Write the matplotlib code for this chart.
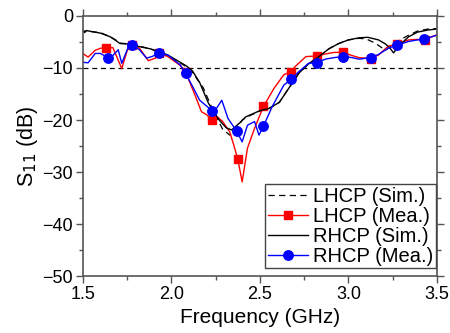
import numpy as np
import matplotlib.pyplot as plt
from matplotlib.ticker import MultipleLocator

plt.rcParams['font.family'] = ['Liberation Sans', 'DejaVu Sans']

# RHCP simulated (solid)
f_rs = [1.50, 1.51, 1.52, 1.60, 1.655, 1.69, 1.71, 1.765, 1.82, 1.88, 1.93, 1.98, 2.01, 2.05,
        2.085, 2.12, 2.16, 2.21, 2.27, 2.31, 2.34, 2.385, 2.42, 2.46, 2.50, 2.55, 2.61, 2.665,
        2.72, 2.775, 2.83, 2.89, 2.945, 3.00, 3.06, 3.11, 3.17, 3.21, 3.235, 3.255, 3.28, 3.34,
        3.39, 3.45, 3.50]
s_rs = [-2.7, -3.0, -2.8, -3.3, -4.0, -4.8, -5.3, -5.4, -5.9, -6.3, -6.9, -7.5, -8.1, -8.9,
        -9.6, -10.6, -12.8, -16.8, -20.0, -21.5, -21.9, -20.6, -19.4, -18.8, -18.2, -17.8, -16.6, -13.8,
        -11.0, -9.2, -7.9, -6.3, -5.3, -4.6, -4.2, -4.1, -4.6, -5.4, -6.2, -7.1, -5.9, -4.0,
        -3.1, -2.7, -2.5]

# LHCP simulated (dashed)
f_ls = [1.50, 1.51, 1.52, 1.60, 1.655, 1.69, 1.71, 1.765, 1.82, 1.88, 1.93, 1.98, 2.01, 2.05,
        2.085, 2.12, 2.18, 2.235, 2.29, 2.33, 2.36, 2.40, 2.44, 2.50, 2.55, 2.61, 2.665,
        2.72, 2.775, 2.83, 2.89, 2.945, 3.00, 3.06, 3.10, 3.15, 3.21, 3.24, 3.28, 3.34,
        3.39, 3.45, 3.50]
s_ls = [-2.6, -3.2, -2.9, -3.2, -4.0, -4.7, -5.2, -5.4, -5.8, -6.3, -6.9, -7.5, -8.2, -9.0,
        -9.8, -10.9, -13.8, -18.1, -21.8, -22.9, -22.0, -20.0, -19.2, -18.3, -17.8, -16.6, -13.8,
        -11.0, -9.2, -7.9, -6.3, -5.3, -4.6, -4.3, -4.4, -5.2, -6.6, -5.8, -4.8, -3.7,
        -2.9, -2.5, -2.4]

# LHCP measured
f_lm = [1.50, 1.53, 1.57, 1.60, 1.63, 1.67, 1.72, 1.76, 1.78, 1.82, 1.87, 1.91, 1.93, 1.98,
        2.05, 2.08, 2.13, 2.17, 2.20, 2.23, 2.26, 2.29, 2.33, 2.355, 2.375, 2.40, 2.43, 2.47,
        2.52, 2.58, 2.635, 2.675, 2.70, 2.76, 2.82, 2.87, 2.92, 2.97, 3.02, 3.06, 3.125, 3.17,
        3.225, 3.275, 3.34, 3.39, 3.43, 3.47, 3.50]
s_lm = [-7.2, -7.9, -6.6, -6.2, -6.1, -6.1, -10.1, -5.6, -5.6, -6.2, -8.6, -8.1, -7.2, -7.8,
        -9.5, -10.7, -14.9, -18.4, -19.0, -20.0, -19.4, -20.3, -22.3, -25.1, -27.5, -31.9, -25.4, -21.6,
        -17.4, -13.9, -11.3, -10.7, -9.7, -7.8, -7.7, -7.3, -7.0, -7.0, -7.6, -8.0, -8.2, -7.5,
        -5.8, -5.4, -4.6, -4.5, -4.7, -4.0, -3.6]
mk_lm = [1.63, 1.78, 1.93, 2.08, 2.23, 2.375, 2.52, 2.675, 2.82, 2.97, 3.125, 3.275, 3.43]

# RHCP measured
f_rm = [1.50, 1.53, 1.57, 1.60, 1.64, 1.67, 1.70, 1.72, 1.76, 1.78, 1.82, 1.86, 1.89, 1.93,
        1.98, 2.05, 2.08, 2.13, 2.16, 2.23, 2.25, 2.285, 2.32, 2.37, 2.40, 2.43, 2.47, 2.495,
        2.52, 2.57, 2.635, 2.675, 2.72, 2.775, 2.82, 2.87, 2.92, 2.97, 3.02, 3.06, 3.125, 3.17,
        3.225, 3.275, 3.34, 3.39, 3.425, 3.47, 3.50]
s_rm = [-8.9, -9.0, -7.2, -7.2, -8.0, -7.6, -6.5, -9.1, -5.7, -5.6, -6.5, -8.1, -7.8, -7.2,
        -7.5, -9.4, -11.0, -14.2, -16.2, -18.2, -18.0, -16.2, -19.7, -22.2, -24.2, -21.0, -20.3, -22.9,
        -21.2, -17.4, -13.3, -12.2, -10.7, -9.1, -9.0, -8.3, -8.0, -7.8, -8.0, -8.3, -8.0, -7.4,
        -6.2, -5.6, -4.9, -4.6, -4.5, -4.0, -3.7]
mk_rm = [1.64, 1.78, 1.93, 2.08, 2.23, 2.37, 2.52, 2.675, 2.82, 2.97, 3.125, 3.275, 3.425]

fig, axes = plt.subplots(figsize=(4.5, 3.33), dpi=100)
fig.subplots_adjust(left=0.184, right=0.971, top=0.952, bottom=0.171)

axes.axhline(-10, color='black', lw=0.9, ls=(0, (4, 3)))

axes.plot(f_ls, s_ls, color='black', lw=0.9, ls=(0, (5, 3.5)), label='LHCP (Sim.)')
axes.plot(f_lm, s_lm, color='red', lw=1.0, marker='s', ms=6.2,
          markevery=list(np.flatnonzero(np.isin(f_lm, mk_lm))), label='LHCP (Mea.)')
axes.plot(f_rs, s_rs, color='black', lw=1.0, label='RHCP (Sim.)')
axes.plot(f_rm, s_rm, color='blue', lw=1.0, marker='o', ms=6.8,
          markevery=list(np.flatnonzero(np.isin(f_rm, mk_rm))), label='RHCP (Mea.)')

axes.set_xlim(1.5, 3.5)
axes.set_ylim(-50, 0)
axes.xaxis.set_major_locator(MultipleLocator(0.5))
axes.xaxis.set_minor_locator(MultipleLocator(0.25))
axes.yaxis.set_major_locator(MultipleLocator(10))
axes.yaxis.set_minor_locator(MultipleLocator(5))
axes.tick_params(which='both', direction='out', top=True, right=True, color='#555555',
                 labelsize=13, pad=2)
axes.tick_params(which='major', length=5, width=1)
axes.tick_params(which='minor', length=3, width=1)
for sp in axes.spines.values():
    sp.set_color('#555555')
    sp.set_linewidth(1.2)

axes.set_xlabel('Frequency (GHz)', fontsize=15, labelpad=4)
axes.set_ylabel('S$_{11}$ (dB)', fontsize=15.5, labelpad=2)

leg = axes.legend(loc='lower right', bbox_to_anchor=(0.997, 0.031), fontsize=14.5,
                  handlelength=2.0, handletextpad=0.25, labelspacing=0.05,
                  borderpad=0.12, borderaxespad=0.0, fancybox=False, framealpha=1)
leg.get_frame().set_edgecolor('#444444')
leg.get_frame().set_linewidth(1.0)

plt.savefig('out.png', dpi=100)
